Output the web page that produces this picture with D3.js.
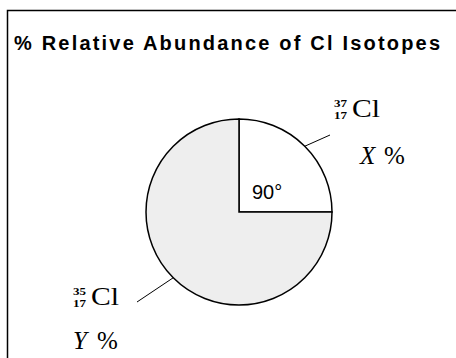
<!DOCTYPE html>
<html>
<head>
<meta charset="utf-8">
<script src="https://cdn.jsdelivr.net/npm/d3@7"></script>
<style>
  body { margin: 0; background: #fff; }
</style>
</head>
<body>
<div id="chart"></div>
<script>
// isotope data (37Cl slice is the 90 degree one)
var isotopes = ["37Cl", "35Cl"];
var massNumbers = ["37", "35"];
var atomicNumbers = ["17", "17"];
var shares = [25, 75];
var shareLabels = ["X", "Y"];
var sliceColors = ["#ffffff", "#eeeeee"];

var width = 456, height = 358;
var cx = 239, cy = 212, radius = 93;

var svg = d3.select("#chart")
  .append("svg")
  .attr("width", width)
  .attr("height", height);

// frame (top and left lines only)
svg.append("path")
  .attr("d", "M7.5," + height + "V10.5H" + width)
  .attr("fill", "none")
  .attr("stroke", "#000")
  .attr("stroke-width", 1.5);

svg.append("text")
  .attr("x", 14)
  .attr("y", 50)
  .style("font-family", "'Liberation Sans', Arial, sans-serif")
  .style("font-weight", "bold")
  .style("font-size", "20px")
  .attr("textLength", 426)
  .attr("lengthAdjust", "spacing")
  .text("% Relative Abundance of Cl Isotopes");

var pie = d3.pie().sort(null).value(function(d) { return d; });
var arcs = pie(shares);
var arc = d3.arc().innerRadius(0).outerRadius(radius);

var g = svg.append("g")
  .attr("transform", "translate(" + cx + "," + cy + ")");

g.selectAll("path.slice")
  .data(arcs)
  .enter()
  .append("path")
  .attr("class", "slice")
  .attr("d", arc)
  .attr("fill", function(d, i) { return sliceColors[i]; })
  .attr("stroke", "#000")
  .attr("stroke-width", 1.5)
  .attr("stroke-linejoin", "miter");

// angle label inside the small slice
var deg = (arcs[0].endAngle - arcs[0].startAngle) * 180 / Math.PI;
g.append("text")
  .attr("x", 13)
  .attr("y", -13)
  .style("font-family", "'Liberation Sans', Tahoma, sans-serif")
  .style("font-size", "20px")
  .text(Math.round(deg) + "\u00b0");

// leader lines and isotope labels
var labelPos = [
  { lx: 334, ly: 117, px: 360, py: 164, lineEnd: [330, 135] },
  { lx: 73, ly: 305, px: 73, py: 349, lineEnd: [137, 302] }
];
var serif = "'Liberation Serif', 'Times New Roman', serif";

arcs.forEach(function(a, i) {
  var mid = (a.startAngle + a.endAngle) / 2;
  var sx = cx + Math.sin(mid) * radius;
  var sy = cy - Math.cos(mid) * radius;
  var p = labelPos[i];
  svg.append("line")
    .attr("x1", sx).attr("y1", sy)
    .attr("x2", p.lineEnd[0]).attr("y2", p.lineEnd[1])
    .attr("stroke", "#000")
    .attr("stroke-width", 1);

  svg.append("text")
    .attr("x", p.lx).attr("y", p.ly - 10)
    .style("font-family", serif)
    .style("font-size", "11px")
    .style("font-weight", "bold")
    .attr("textLength", 13)
    .attr("lengthAdjust", "spacingAndGlyphs")
    .text(massNumbers[i]);
  svg.append("text")
    .attr("x", p.lx).attr("y", p.ly + 2)
    .style("font-family", serif)
    .style("font-size", "11px")
    .style("font-weight", "bold")
    .attr("textLength", 13)
    .attr("lengthAdjust", "spacingAndGlyphs")
    .text(atomicNumbers[i]);
  svg.append("text")
    .attr("x", p.lx + 18).attr("y", p.ly)
    .style("font-family", serif)
    .style("font-size", "26px")
    .attr("textLength", 28)
    .attr("lengthAdjust", "spacingAndGlyphs")
    .text(isotopes[i].replace(/^\d+/, ""));

  var s = svg.append("text")
    .attr("y", p.py)
    .style("font-family", serif)
    .style("font-size", "25px");
  s.append("tspan").attr("x", p.px).style("font-style", "italic").text(shareLabels[i]);
  s.append("tspan").attr("x", p.px + 24).text("%");
});
</script>
</body>
</html>
